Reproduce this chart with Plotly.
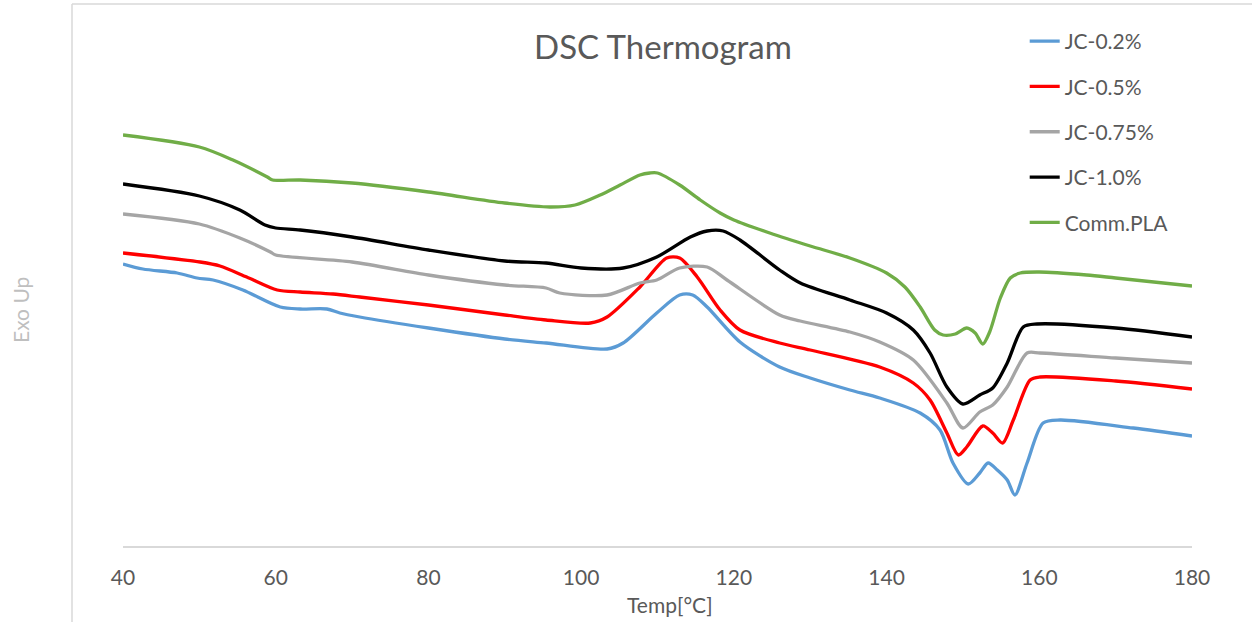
import plotly.graph_objects as go

# ---- data (Temp in °C, heat flow in arbitrary units, exo up) ----
t_02 = [40, 42.6, 47.1, 49.7, 51.8, 55.7, 60.6, 63.2, 66.7, 68.4, 71, 80, 90, 95.4, 103.4,
        105.5, 109.9, 112.9, 114.6, 116.5, 120.8, 126, 130, 135.2, 139.1, 144.4, 147,
        148.7, 150.7, 152.2, 153.3, 154.5, 155.8, 156.8, 158.4, 160.5, 162.7, 172.3, 180]
hf_02 = [2.82, 2.77, 2.73, 2.68, 2.66, 2.56, 2.39, 2.37, 2.37, 2.33, 2.29, 2.18, 2.07, 2.03, 1.97,
         2.03, 2.33, 2.51, 2.51, 2.39, 2.04, 1.79, 1.68, 1.56, 1.48, 1.33, 1.16,
         0.83, 0.62, 0.73, 0.83, 0.76, 0.66, 0.51, 0.83, 1.23, 1.26, 1.18, 1.10]

t_05 = [40, 50.1, 52.7, 56.2, 60.2, 63.2, 67.5, 71, 80, 90, 95.4, 101.2, 103.4, 107.7, 111.2,
        112.9, 115.2, 118.2, 120.8, 126, 130, 139.1, 143.5, 145.7, 147.9, 149.4, 150.5,
        152.6, 153.9, 155.2, 156.6, 158.8, 160.1, 170, 180]
hf_05 = [2.93, 2.84, 2.80, 2.69, 2.56, 2.54, 2.52, 2.49, 2.41, 2.31, 2.26, 2.23, 2.29, 2.59, 2.88,
         2.88, 2.69, 2.36, 2.16, 2.03, 1.96, 1.79, 1.63, 1.46, 1.13, 0.91, 0.99,
         1.20, 1.13, 1.03, 1.26, 1.66, 1.69, 1.65, 1.57]

t_075 = [40, 50, 55.3, 59.3, 60, 70, 80, 90, 95.4, 97.2, 103.4, 107.7, 109.9, 112.9, 116.5,
         119.1, 126, 128.7, 135.2, 139.1, 143.5, 147.9, 150, 152.2, 153.9, 155.8, 158.4,
         160.1, 170, 180]
hf_075 = [3.32, 3.22, 3.08, 2.94, 2.91, 2.84, 2.71, 2.61, 2.58, 2.53, 2.51, 2.63, 2.66, 2.78, 2.79,
          2.66, 2.31, 2.25, 2.14, 2.04, 1.86, 1.43, 1.18, 1.34, 1.41, 1.59, 1.93,
          1.93, 1.88, 1.83]

t_10 = [40, 50, 55.3, 58.6, 60, 63.2, 70, 80, 90, 95.4, 100, 105.5, 109.9, 114.3, 116.5,
        118.6, 120.8, 126, 128.7, 135.2, 140, 143.5, 145.7, 147.9, 150, 152.2, 153.9,
        155.8, 157.9, 159.7, 170, 180]
hf_10 = [3.62, 3.50, 3.36, 3.21, 3.18, 3.16, 3.09, 2.96, 2.85, 2.83, 2.78, 2.78, 2.89, 3.09, 3.15,
         3.15, 3.06, 2.76, 2.63, 2.46, 2.33, 2.16, 1.93, 1.59, 1.42, 1.51, 1.58,
         1.83, 2.19, 2.22, 2.18, 2.09]

t_pla = [40, 50, 54.4, 58.9, 59.6, 63.2, 70, 80, 90, 95.9, 99.2, 102.5, 105.1, 107.7, 109,
         110, 112.9, 115.6, 118.2, 120, 124.7, 130, 135.2, 140, 142.4, 144.4, 146.3,
         147.4, 149, 150.5, 151.6, 152.6, 153.5, 154.9, 156.2, 157.5, 160, 166.2, 170, 180]
hf_pla = [4.11, 3.99, 3.86, 3.69, 3.66, 3.66, 3.63, 3.54, 3.43, 3.39, 3.41, 3.51, 3.61, 3.71, 3.73,
          3.73, 3.61, 3.46, 3.33, 3.26, 3.13, 3.00, 2.88, 2.73, 2.59, 2.39, 2.16,
          2.11, 2.12, 2.18, 2.13, 2.02, 2.14, 2.48, 2.68, 2.73, 2.74, 2.71, 2.68, 2.60]

names = ["JC-0.2%", "JC-0.5%", "JC-0.75%", "JC-1.0%", "Comm.PLA"]
colors = ["#5B9BD5", "#FF0000", "#A5A5A5", "#000000", "#70AD47"]
series_t = [t_02, t_05, t_075, t_10, t_pla]
series_hf = [hf_02, hf_05, hf_075, hf_10, hf_pla]

x_ticks = [40, 60, 80, 100, 120, 140, 160, 180]

FONT = "Lato"
TXT = "#595959"

fig = go.Figure()
for n, c, tx, hy in zip(names, colors, series_t, series_hf):
    fig.add_trace(go.Scatter(
        x=tx, y=hy, name=n, mode="lines",
        line=dict(color=c, width=3.3, shape="spline", smoothing=0.8),
        legendgroup=n,
    ))

fig.update_layout(
    width=1252, height=622,
    margin=dict(l=123, r=60, t=10, b=76),
    paper_bgcolor="white", plot_bgcolor="white",
    font=dict(family=FONT, color=TXT),
    showlegend=True,
    legend=dict(
        x=0.8435, y=1 - 11 / 536, xanchor="left", yanchor="top",
        font=dict(family=FONT, size=21, color=TXT),
        tracegroupgap=15, bgcolor="rgba(0,0,0,0)",
    ),
    title=dict(text="DSC Thermogram", x=663 / 1252, y=1 - 47 / 622,
               xref="container", yref="container", xanchor="center", yanchor="middle",
               font=dict(family=FONT, size=33, color=TXT)),
    xaxis=dict(
        range=[40, 180], tickvals=x_ticks, ticktext=[str(v) for v in x_ticks],
        showgrid=False, zeroline=False, showline=True, linecolor="#D9D9D9", linewidth=1.5,
        ticks="outside", ticklen=12, tickcolor="rgba(0,0,0,0)",
        tickfont=dict(family=FONT, size=21, color=TXT),
    ),
    yaxis=dict(
        range=[0, 5.36], showgrid=False, zeroline=False, showline=False,
        showticklabels=False, ticks="",
    ),
    annotations=[
        dict(text="Temp[°C]", x=(670 - 123) / 1069, y=(546 - 604) / 536, xref="paper", yref="paper",
             showarrow=False, font=dict(family=FONT, size=21, color=TXT),
             xanchor="center", yanchor="middle"),
        dict(text="Exo Up", x=(20 - 123) / 1069, y=(546 - 310) / 536, xref="paper", yref="paper",
             showarrow=False, textangle=-90, font=dict(family=FONT, size=21, color="#BFBFBF"),
             xanchor="center", yanchor="middle"),
    ],
    shapes=[
        dict(type="line", xref="paper", yref="paper", x0=(72 - 123) / 1069, x1=(72 - 123) / 1069,
             y0=(546 - 4) / 536, y1=(546 - 640) / 536, line=dict(color="#D9D9D9", width=1.5)),
        dict(type="line", xref="paper", yref="paper", x0=(72 - 123) / 1069, x1=(1260 - 123) / 1069,
             y0=(546 - 4) / 536, y1=(546 - 4) / 536, line=dict(color="#D9D9D9", width=1.5)),
    ],
)

fig.write_html("out.html")
